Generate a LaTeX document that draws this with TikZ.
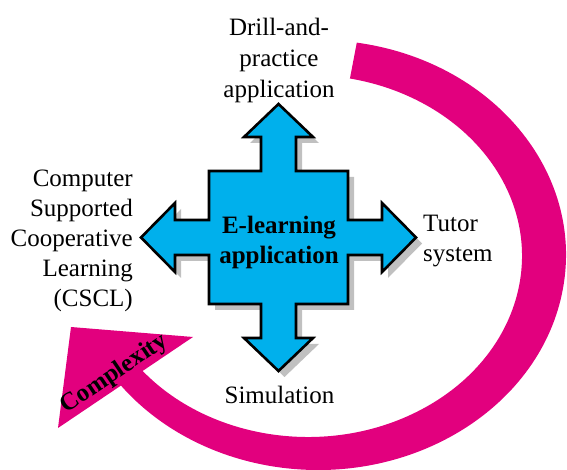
\documentclass[tikz,border=0pt]{standalone}
\usepackage{fontspec}
\setmainfont{Liberation Serif}
\usetikzlibrary{calc,shadows}
\definecolor{elblue}{RGB}{0,176,236}
\definecolor{cxpink}{RGB}{226,0,126}
\definecolor{elshade}{RGB}{192,192,192}
\begin{document}
\begin{tikzpicture}[x=1pt,y=1pt,line join=miter,
  lbl/.style={inner sep=0pt,font=\fontsize{25}{30}\selectfont},
  hub/.style={fill=elblue,draw=black,line width=2.6pt,
    drop shadow={shadow xshift=6pt,shadow yshift=-6pt,fill=elshade,opacity=1}}]
  \useasboundingbox (0,0) rectangle (567,470);
  \coordinate (Oo) at (318,215);
  \coordinate (Oi) at (308,214);
  \fill[cxpink] (Oo) ++(81:248 and 215)
    arc[start angle=81,end angle=-148,x radius=248,y radius=215]
    -- ($(Oi)+(-148:214 and 181)$)
    arc[start angle=-148,end angle=78.7,x radius=214,y radius=181] -- cycle;
  \fill[cxpink] (71,143) -- (193,133) -- (58,42) -- cycle;
  \begin{scope}[shift={(278.5,232.5)}]
    \path[hub] (0,133.5) -- (34.5,100.5) -- (17.5,100.5) -- (17.5,66.5)
      -- (69.5,66.5) -- (69.5,17.5) -- (103.5,17.5) -- (103.5,34.5)
      -- (137.5,0) -- (103.5,-34.5) -- (103.5,-17.5) -- (69.5,-17.5)
      -- (69.5,-66.5) -- (17.5,-66.5) -- (17.5,-100.5) -- (34.5,-100.5)
      -- (0,-133.5) -- (-34.5,-100.5) -- (-17.5,-100.5) -- (-17.5,-66.5)
      -- (-69.5,-66.5) -- (-69.5,-17.5) -- (-103.5,-17.5) -- (-103.5,-34.5)
      -- (-137.5,0) -- (-103.5,34.5) -- (-103.5,17.5) -- (-69.5,17.5)
      -- (-69.5,66.5) -- (-17.5,66.5) -- (-17.5,100.5) -- (-34.5,100.5) -- cycle;
  \end{scope}
  \node[lbl,align=center,font=\fontsize{25}{30}\selectfont\bfseries] (elearn) at (279,227.8) {E-learning\\application};
  \node[lbl,align=center,font=\fontsize{25}{31}\selectfont] (drill) at (279,409.8) {Drill-and-\\practice\\application};
  \node[lbl,align=right,anchor=east] (cscl) at (133,229.6) {Computer\\Supported\\Cooperative\\Learning\\(CSCL)};
  \node[lbl,align=left,anchor=west] (tutor) at (423,228.8) {Tutor\\system};
  \node[lbl,anchor=base] (sim) at (279.5,66.7) {Simulation};
  \node[lbl,anchor=base,rotate=34,font=\fontsize{25}{30}\selectfont\bfseries] (cplx) at (118,91) {Complexity};
\end{tikzpicture}
\end{document}
